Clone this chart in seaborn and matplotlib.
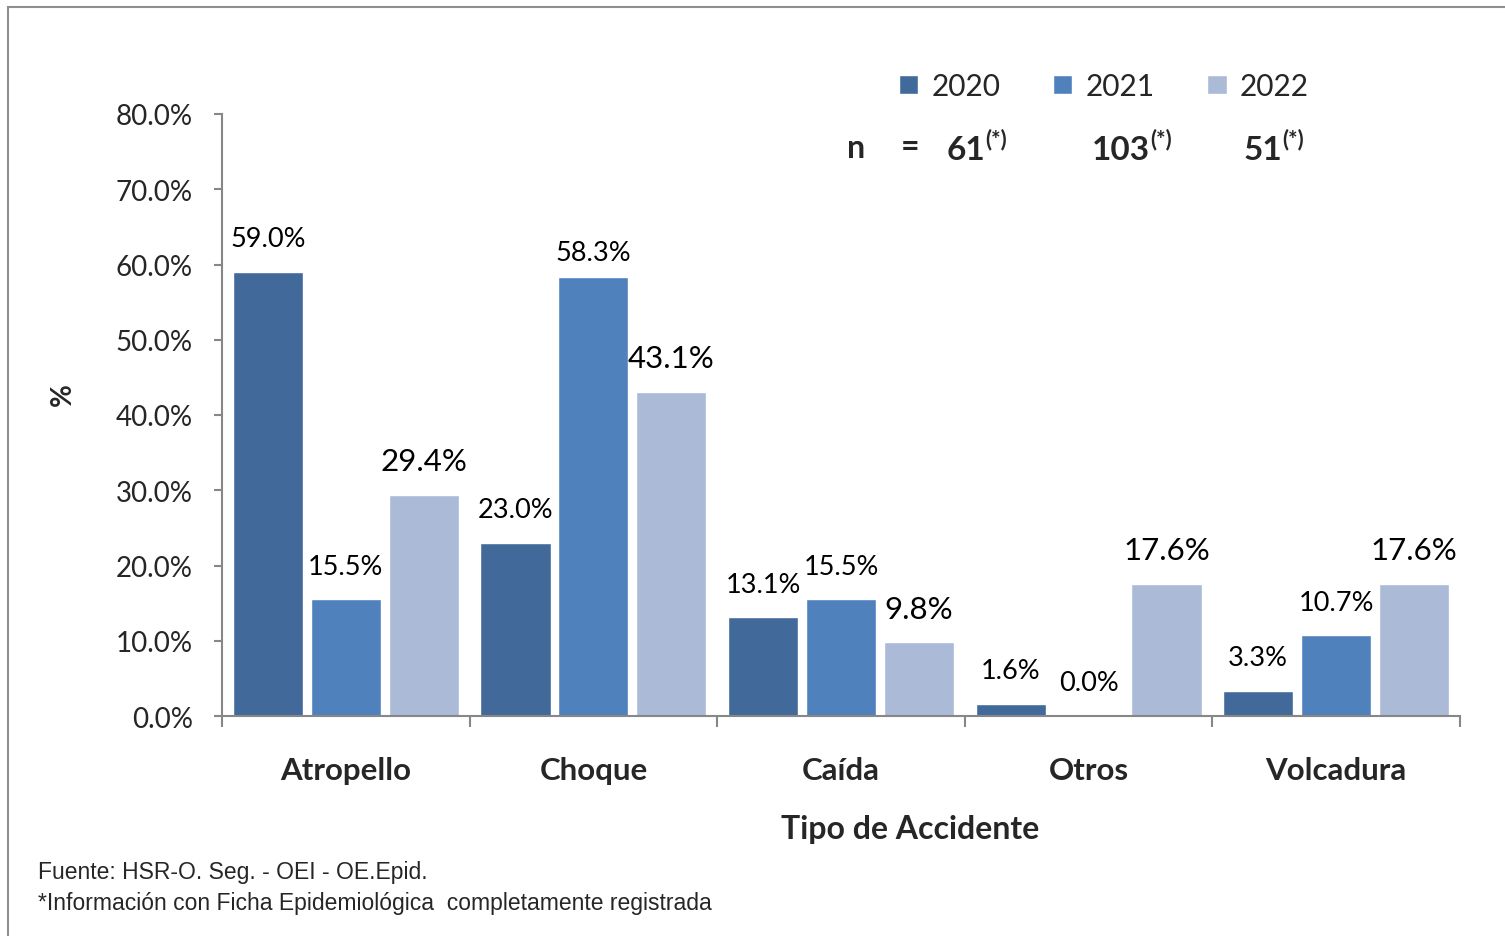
import matplotlib
matplotlib.use("Agg")
import matplotlib.pyplot as plt
from matplotlib.patches import Rectangle
from matplotlib.ticker import FixedLocator, FuncFormatter
import seaborn as sns
import pandas as pd

# %% data
tipos = ["Atropello", "Choque", "Caída", "Otros", "Volcadura"]
years = ["2020", "2021", "2022"]
v2020 = [59.0, 23.0, 13.1, 1.6, 3.3]
v2021 = [15.5, 58.3, 15.5, 0.0, 10.7]
v2022 = [29.4, 43.1, 9.8, 17.6, 17.6]
nCasos = ["61", "103", "51"]
yTicks = [0, 10, 20, 30, 40, 50, 60, 70, 80]
fuente = "Fuente: HSR-O. Seg. - OEI - OE.Epid."
nota = "*Información con Ficha Epidemiológica  completamente registrada"

df = pd.DataFrame({
    "Tipo": tipos * 3,
    "Año": [y for y in years for _ in tipos],
    "Pct": v2020 + v2021 + v2022,
})

# %% style
sns.set_style("white")
plt.rcParams["font.family"] = ["Lato", "DejaVu Sans"]
colores = ["#416A9B", "#4F81BD", "#AABAD7"]
gris = "#878787"

fig = plt.figure(figsize=(15.05, 9.37), dpi=100)
ax = fig.add_axes([222/1505, 1-717/937, (1460-222)/1505, (717-115)/937])
sns.barplot(data=df, x="Tipo", y="Pct", hue="Año", palette=colores, order=tipos,
            hue_order=years, width=0.945, gap=0.1, ax=ax, legend=True, saturation=1)

ax.set_ylim(0, 80)
ax.set_xlim(-0.5, len(tipos)-0.5)
ax.yaxis.set_major_locator(FixedLocator(yTicks))
ax.yaxis.set_major_formatter(FuncFormatter(lambda v, p: f"{v:.1f}%"))
ax.tick_params(axis="y", which="major", left=True, length=6, width=1.5, color=gris,
               labelsize=20, pad=15)
ax.set_xticks([i-0.5 for i in range(len(tipos)+1)])
ax.set_xticklabels([])
ax.set_xticks(range(len(tipos)), minor=True)
ax.set_xticklabels(tipos, minor=True, fontsize=22.5, fontweight="bold")
ax.tick_params(axis="x", which="major", bottom=True, length=8, width=1.5, color=gris)
ax.tick_params(axis="x", which="minor", bottom=False, length=0, pad=29)
for s in ["top", "right"]:
    ax.spines[s].set_visible(False)
for s in ["left", "bottom"]:
    ax.spines[s].set_color(gris)
    ax.spines[s].set_linewidth(1.5)
ax.set_xlabel("")
ax.set_ylabel("")

# %% etiquetas
tamanos = {"2020": 19.5, "2021": 19.5, "2022": 22.5}
for cont, yr in zip(ax.containers, years):
    for bar, v in zip(cont, df[df["Año"] == yr]["Pct"]):
        off = 18 if v == 58.3 else 24
        ax.annotate(f"{v:.1f}%", (bar.get_x()+bar.get_width()/2, bar.get_height()),
                    xytext=(0, off), textcoords="offset points", ha="center", va="center",
                    fontsize=tamanos[yr], color="black")

# %% leyenda
sns.move_legend(ax, "center", bbox_to_anchor=(1104/1505, 1-87/937),
                bbox_transform=fig.transFigure, ncol=3, frameon=False, title=None,
                fontsize=21.5, handlelength=0.65, handleheight=0.65, columnspacing=1.75,
                handletextpad=0.45)

# n = ...
fig.text(856/1505, 1-148/937, "n", ha="center", va="center", fontsize=23, fontweight="bold")
fig.text(910/1505, 1-148/937, "=", ha="center", va="center", fontsize=23, fontweight="bold")
for xe, n in zip([985, 1150, 1282], nCasos):
    fig.text(xe/1505, 1-160/937, n, ha="right", va="baseline", fontsize=24, fontweight="bold")
    fig.text(xe/1505, 1-146/937, "(*)", ha="left", va="baseline", fontsize=16, fontweight="bold")

fig.text(63/1505, 1-395/937, "%", rotation=90, ha="center", va="center",
         fontsize=20, fontweight="bold")
fig.text(910/1505, 1-830/937, "Tipo de Accidente", ha="center", va="center",
         fontsize=23, fontweight="bold")
pieFam = ["Liberation Sans Narrow", "Liberation Sans", "DejaVu Sans"]
fig.text(38/1505, 1-872/937, fuente, ha="left", va="center", fontsize=16.5, family=pieFam)
fig.text(38/1505, 1-904/937, nota, ha="left", va="center", fontsize=16.5, family=pieFam)

fig.patches.append(Rectangle((8/1505, -0.1), 1.2, 1-8/937+0.1, transform=fig.transFigure,
                             fill=False, edgecolor="#8f8f8f", linewidth=1.5))

fig.savefig("out.png", dpi=100)
